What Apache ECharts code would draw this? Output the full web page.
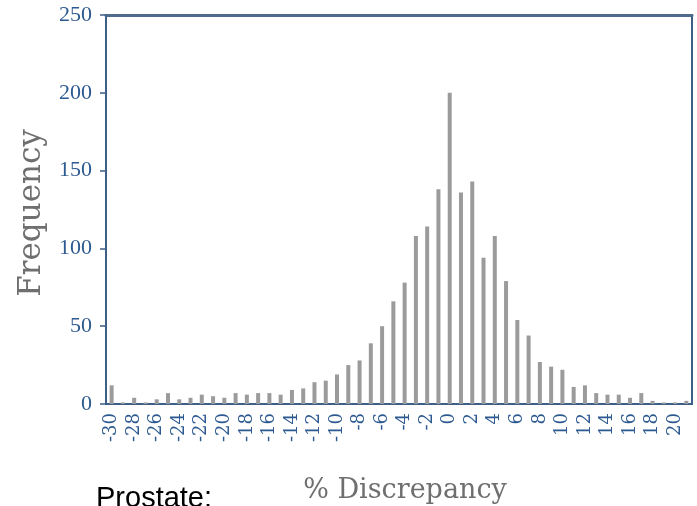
<!DOCTYPE html>
<html>
<head>
<meta charset="utf-8">
<script src="https://cdn.jsdelivr.net/npm/echarts@6/dist/echarts.min.js"></script>
<style>
  html, body { margin: 0; padding: 0; background: #ffffff; }
  #chart { width: 697px; height: 506px; }
</style>
</head>
<body>
<div id="chart"></div>
<script>
// Percent discrepancy bins (one bar per integer percent)
const discrepancyBins = [
  '-30','-29','-28','-27','-26','-25','-24','-23','-22','-21',
  '-20','-19','-18','-17','-16','-15','-14','-13','-12','-11',
  '-10','-9','-8','-7','-6','-5','-4','-3','-2','-1',
  '0','1','2','3','4','5','6','7','8','9',
  '10','11','12','13','14','15','16','17','18','19',
  '20','21'
];

// Count of cases falling in each bin
const frequency = [
  12, 1, 4, 1, 3, 7, 3, 4, 6, 5,
  4, 7, 6, 7, 7, 6, 9, 10, 14, 15,
  19, 25, 28, 39, 50, 66, 78, 108, 114, 138,
  200, 136, 143, 94, 108, 79, 54, 44, 27, 24,
  22, 11, 12, 7, 6, 6, 4, 7, 2, 1,
  1, 2
];

// Frequency axis ticks
const frequencyTicks = { min: 0, max: 250, step: 50 };

const axisBlue = '#3d5e86';
const labelBlue = '#2d5a90';

const chart = echarts.init(document.getElementById('chart'), null, { renderer: 'canvas' });

chart.setOption({
  animation: false,
  backgroundColor: '#ffffff',
  grid: {
    left: 106, right: 5, top: 15, bottom: 102,
    show: true,
    borderColor: axisBlue,
    borderWidth: 2,
    backgroundColor: 'transparent'
  },
  xAxis: [
    {
      type: 'category',
      data: discrepancyBins,
      boundaryGap: true,
      axisLine: { lineStyle: { color: axisBlue, width: 2 } },
      axisTick: {
        alignWithLabel: true,
        interval: 0,
        length: 6,
        lineStyle: { color: axisBlue, width: 1.5 }
      },
      axisLabel: {
        interval: 1,
        rotate: 90,
        margin: 9,
        color: labelBlue,
        fontFamily: 'DejaVu Serif',
        fontSize: 18
      },
      splitLine: { show: false }
    },
    {
      // heavier rule along the top of the frame
      type: 'category',
      data: discrepancyBins,
      position: 'top',
      axisLine: { lineStyle: { color: '#4f6b8c', width: 3 } },
      axisTick: { show: false },
      axisLabel: { show: false },
      splitLine: { show: false }
    }
  ],
  yAxis: {
    type: 'value',
    min: frequencyTicks.min,
    max: frequencyTicks.max,
    interval: frequencyTicks.step,
    axisLine: { show: true, lineStyle: { color: axisBlue, width: 2 } },
    axisTick: { show: true, length: 6, lineStyle: { color: axisBlue, width: 1.5 } },
    axisLabel: {
      margin: 14,
      color: labelBlue,
      fontFamily: 'Liberation Serif',
      fontSize: 22
    },
    splitLine: { show: false }
  },
  series: [
    {
      type: 'bar',
      data: frequency,
      barWidth: 4,
      itemStyle: { color: '#9b9b9b' }
    }
  ],
  graphic: [
    {
      type: 'text',
      x: 32, y: 213,
      rotation: Math.PI / 2,
      style: {
        text: 'Frequency',
        fill: '#6f6f6f',
        font: '31px "DejaVu Serif"',
        align: 'center',
        verticalAlign: 'middle'
      }
    },
    {
      type: 'text',
      x: 405, y: 491,
      style: {
        text: '% Discrepancy',
        fill: '#6f6f6f',
        font: '27px "DejaVu Serif"',
        align: 'center',
        verticalAlign: 'middle'
      }
    },
    {
      type: 'text',
      x: 96, y: 499,
      style: {
        text: 'Prostate:',
        fill: '#000000',
        font: '29px "Liberation Sans"',
        align: 'left',
        verticalAlign: 'middle'
      }
    }
  ]
});
</script>
</body>
</html>
